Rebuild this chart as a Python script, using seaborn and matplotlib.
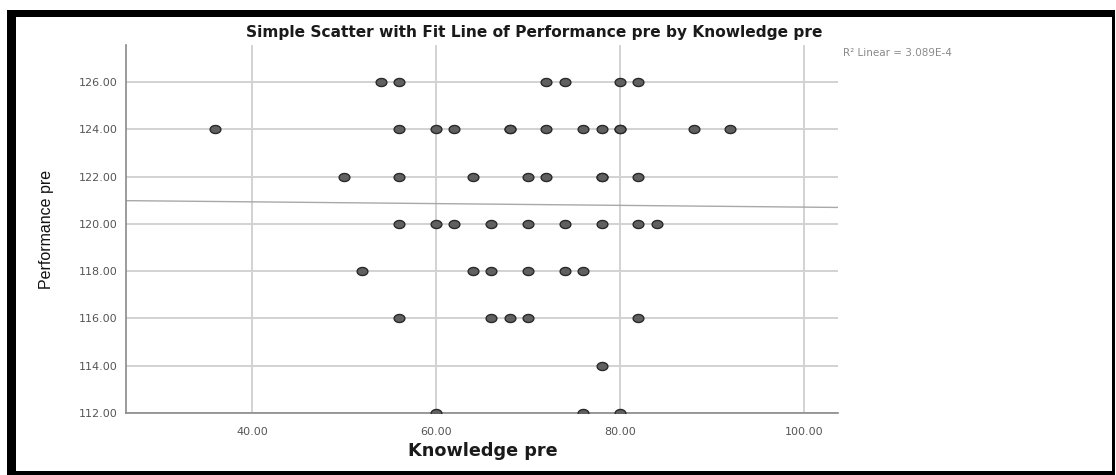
import numpy as np
import pandas as pd
import matplotlib
matplotlib.use("Agg")
import matplotlib.pyplot as plt
import seaborn as sns
from matplotlib.patches import Rectangle
from matplotlib.path import Path

# Data
knowledge_pre = [54, 56, 72, 74, 80, 82,
                 36, 56, 60, 62, 68, 68, 72, 76, 78, 80, 80, 88, 92,
                 50, 56, 64, 70, 72, 78, 78, 82,
                 56, 60, 62, 66, 70, 74, 78, 82, 84,
                 52, 64, 66, 70, 74, 76,
                 56, 66, 68, 70, 82,
                 78,
                 60, 76, 80]
performance_pre = [126] * 6 + [124] * 13 + [122] * 8 + [120] * 9 + [118] * 6 + [116] * 5 + [114] * 1 + [112] * 3
x_ticks = [40, 60, 80, 100]
y_ticks = [112, 114, 116, 118, 120, 122, 124, 126]
r2_label = "R\u00b2 Linear = 3.089E-4"

df = pd.DataFrame({"Knowledge pre": knowledge_pre, "Performance pre": performance_pre})

sns.set_theme(style="white")
plt.rcParams['font.family'] = ['DejaVu Sans']

W, H = 1116, 475
fig = plt.figure(figsize=(W / 100, H / 100), dpi=100)

# Black frame
fig.patches.append(Rectangle((7 / W, 0), (1115 - 7) / W, (475 - 10) / H,
                             transform=fig.transFigure, facecolor="black", edgecolor="none", zorder=-10))
fig.patches.append(Rectangle((16 / W, 4 / H), (1112 - 16) / W, (471 - 17) / H,
                             transform=fig.transFigure, facecolor="white", edgecolor="none", zorder=-9))

ax = fig.add_axes([126 / W, 62 / H, (838 - 126) / W, (413 - 45) / H])
ax.set_facecolor("none")

xlim = (26.3, 103.7)
ylim = (112, 127.57)
ax.set_xlim(*xlim)
ax.set_ylim(*ylim)

# Grid
ax.set_xticks(x_ticks)
ax.set_yticks(y_ticks)
ax.grid(True, color="#d2d2d2", linewidth=1.4)
ax.set_axisbelow(True)

# Fit line
slope, intercept = np.polyfit(df["Knowledge pre"], df["Performance pre"], 1)
xs = np.array(xlim)
ax.plot(xs, intercept + slope * xs, color="#a8a8a8", linewidth=1.0, zorder=2)

# slightly flattened circle marker (as in the reference rendering)
t = np.linspace(0, 2 * np.pi, 41)
ellipse = Path(np.column_stack([np.cos(t), 0.75 * np.sin(t)]), closed=True)

sns.scatterplot(data=df, x="Knowledge pre", y="Performance pre", ax=ax,
                s=60, marker=ellipse, color="#606060", edgecolor="#2a2a2a", linewidth=1.0, zorder=3)

ax.set_xticklabels([f"{v:.2f}" for v in x_ticks], fontsize=8, color="#555555")
ax.set_yticklabels([f"{v:.2f}" for v in y_ticks], fontsize=8, color="#555555")
ax.tick_params(axis="both", length=0, pad=6)
ax.tick_params(axis="x", pad=10)

for side in ["top", "right"]:
    ax.spines[side].set_visible(False)
for side in ["left", "bottom"]:
    ax.spines[side].set_color("#8a8a8a")
    ax.spines[side].set_linewidth(1.2)

ax.set_xlabel("")
ax.set_ylabel("")
fig.text(483 / W, 1 - 451 / H, "Knowledge pre", ha="center", va="center",
         fontsize=12.7, fontweight="bold", color="#1a1a1a")
fig.text(47 / W, 1 - 229 / H, "Performance pre", ha="center", va="center", rotation=90,
         fontsize=11.5, color="#111111", family=['Liberation Sans Narrow', 'Liberation Sans', 'DejaVu Sans'])
fig.text(534 / W, 1 - 33 / H, "Simple Scatter with Fit Line of Performance pre by Knowledge pre",
         ha="center", va="center", fontsize=11.1, fontweight="bold", color="#1a1a1a")
fig.text(843 / W, 1 - 53 / H, r2_label, ha="left", va="center", fontsize=7.5, color="#8a8a8a")

fig.savefig("out.png", dpi=100)
